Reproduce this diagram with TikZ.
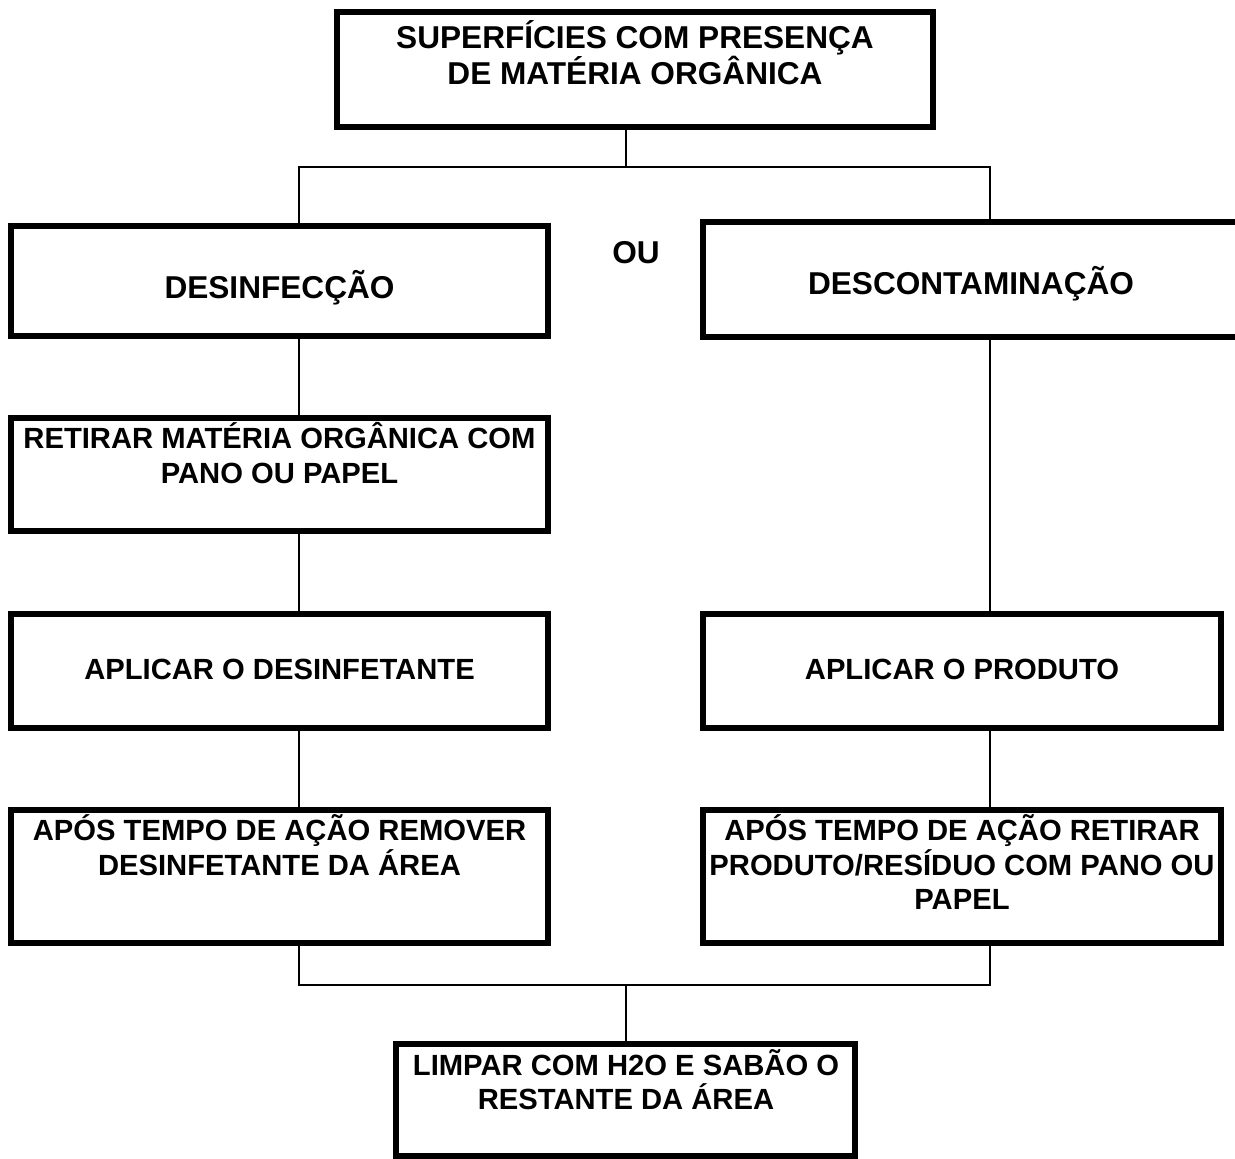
\documentclass[tikz,border=0pt]{standalone}
\usepackage{fontspec}
\setmainfont{Liberation Sans}
\begin{document}
\begin{tikzpicture}[x=0.5pt,y=-0.5pt,
  box/.style={draw,line width=3pt,rectangle,inner sep=0pt},
  conn/.style={line width=1pt},
  big/.style={font=\bfseries\fontsize{15.8}{18.25}\selectfont},
  small/.style={font=\bfseries\fontsize{14.6}{17.25}\selectfont},
  txt/.style={anchor=north,inner sep=0pt,align=center,execute at begin node={\rule{0pt}{16pt}}}]
\clip (0,0) rectangle (1235,1159);
% boxes
\node[box,minimum width=298pt,minimum height=57.5pt] (top) at (635,69.5) {};
\node[box,minimum width=268.5pt,minimum height=55pt] (desinf) at (279.5,281) {};
\node[box,minimum width=278.5pt,minimum height=57.5pt] (descont) at (981.5,279.5) {};
\node[box,minimum width=268.5pt,minimum height=56.5pt] (retirar) at (279.5,474.5) {};
\node[box,minimum width=268.5pt,minimum height=57pt] (apdes) at (279.5,671) {};
\node[box,minimum width=268.5pt,minimum height=66.5pt] (remover) at (279.5,876.5) {};
\node[box,minimum width=259pt,minimum height=57pt] (approd) at (962,671) {};
\node[box,minimum width=259pt,minimum height=66.5pt] (retprod) at (962,876.5) {};
\node[box,minimum width=229.5pt,minimum height=56pt] (limpar) at (625.5,1100) {};
% texts
\node[txt,big] (ttop) at (635,20) {SUPERFÍCIES COM PRESENÇA\\DE MATÉRIA ORGÂNICA};
\node[txt,big] (tdesinf) at (279.5,266) {DESINFECÇÃO};
\node[txt,big] (tdescont) at (971,262) {DESCONTAMINAÇÃO};
\node[txt,big] (tou) at (636,231) {OU};
\node[txt,small] (tretirar) at (279.5,422) {RETIRAR MATÉRIA ORGÂNICA COM\\PANO OU PAPEL};
\node[txt,small] (tapdes) at (279.5,647) {APLICAR O DESINFETANTE};
\node[txt,small] (tapprod) at (962,647) {APLICAR O PRODUTO};
\node[txt,small] (tremover) at (279.5,814.5) {APÓS TEMPO DE AÇÃO REMOVER\\DESINFETANTE DA ÁREA};
\node[txt,small] (tretprod) at (962,814.5) {APÓS TEMPO DE AÇÃO RETIRAR\\PRODUTO/RESÍDUO COM PANO OU\\PAPEL};
\node[txt,small] (tlimpar) at (626,1049) {LIMPAR COM H2O E SABÃO O\\RESTANTE DA ÁREA};
% junction coordinates
\coordinate (jt) at (626,167);
\coordinate (lt) at (299,167);
\coordinate (rt) at (990,167);
\coordinate (jb) at (626,985);
\coordinate (lb) at (299,985);
\coordinate (rb) at (990,985);
% connectors
\draw[conn] (top.south -| jt) -- (jt);
\draw[conn] (lt |- desinf.north) -- (lt) -- (rt) -- (rt |- descont.north);
\draw[conn] (lt |- desinf.south) -- (lt |- retirar.north);
\draw[conn] (lt |- retirar.south) -- (lt |- apdes.north);
\draw[conn] (lt |- apdes.south) -- (lt |- remover.north);
\draw[conn] (rt |- descont.south) -- (rt |- approd.north);
\draw[conn] (rt |- approd.south) -- (rt |- retprod.north);
\draw[conn] (lb |- remover.south) -- (lb) -- (rb) -- (rb |- retprod.south);
\draw[conn] (jb) -- (jb |- limpar.north);
\end{tikzpicture}
\end{document}
